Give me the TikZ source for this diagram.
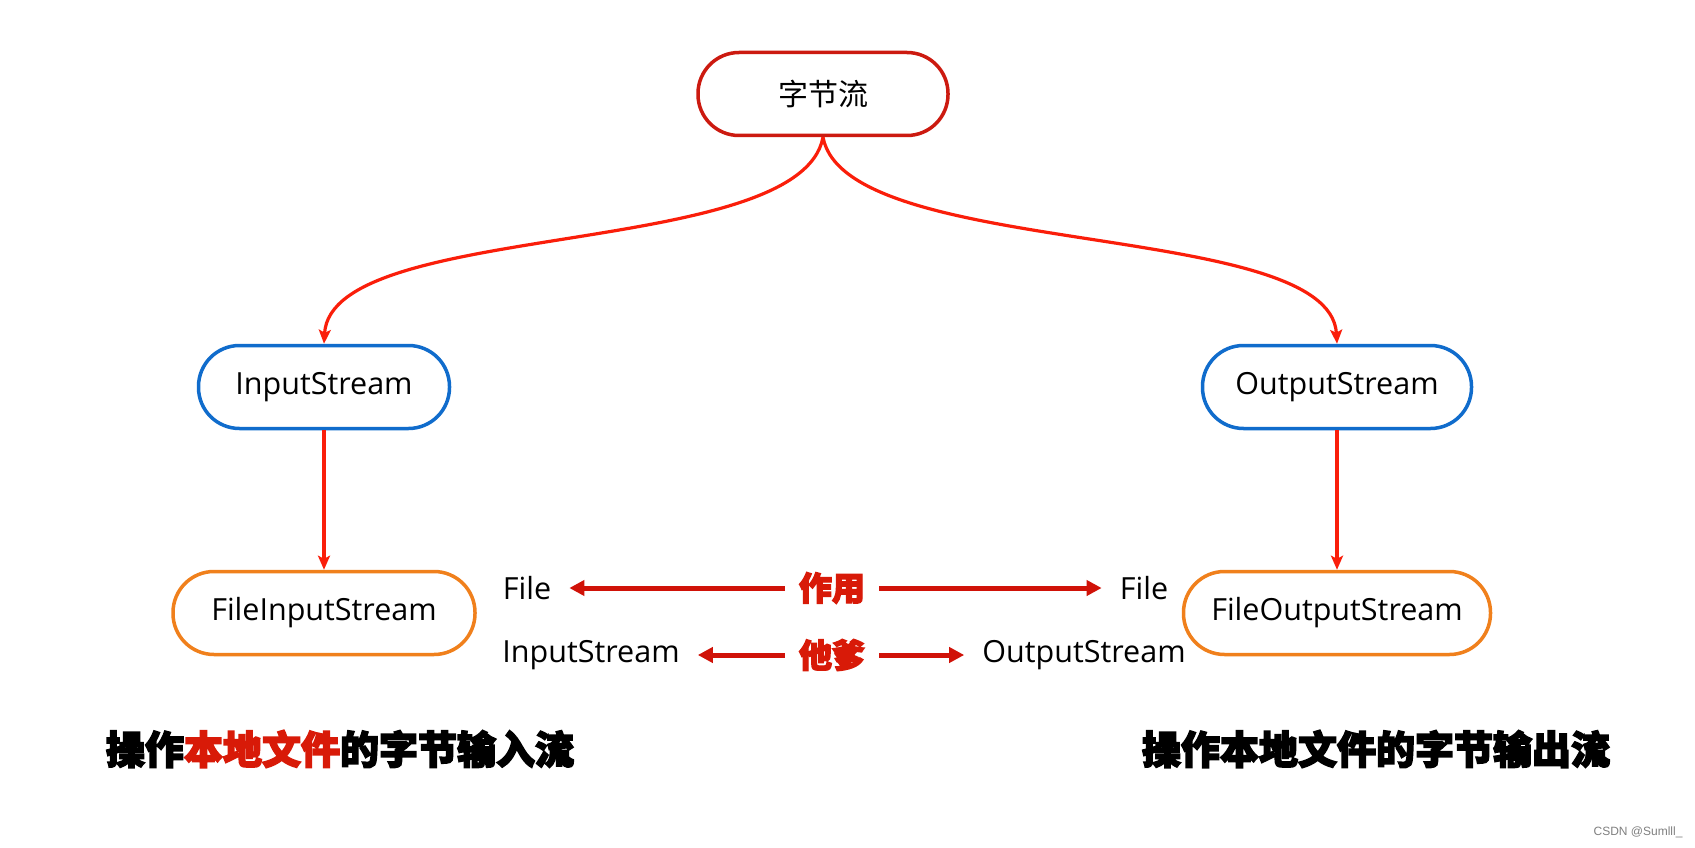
\documentclass[tikz,border=0pt]{standalone}
\usepackage{fontspec}
\setmainfont{Open Sans}
\newfontfamily\cjk{Noto Sans CJK SC}[BoldFeatures={FakeBold=4}]
\newfontfamily\wmfont{Liberation Sans}
\usetikzlibrary{arrows.meta}
\definecolor{topred}{RGB}{204,26,16}
\definecolor{nodeblue}{RGB}{16,108,204}
\definecolor{nodeorange}{RGB}{240,128,28}
\definecolor{linkred}{RGB}{250,30,10}
\definecolor{midred}{RGB}{208,18,8}
\definecolor{txtred}{RGB}{216,26,8}
\tikzset{
  pill/.style={draw, line width=3.5pt, rectangle, rounded corners=41pt, minimum height=83pt, fill=white, inner sep=0pt,
    font=\fontsize{30.5}{35}\selectfont},
  link/.style={draw=linkred, line width=3.2pt, -{Stealth[length=14pt,width=12pt,inset=3pt]}},
  midarrow/.style={draw=midred, line width=5pt, -{Triangle[length=15pt,width=15pt]}, shorten <=14pt, shorten >=18pt},
  lbl/.style={inner sep=0pt, font=\fontsize{30.5}{35}\selectfont},
  heavy/.style={inner sep=0pt, font=\cjk\bfseries\fontsize{33}{36}\selectfont, text=txtred},
  bigheavy/.style={inner sep=0pt, font=\cjk\bfseries\fontsize{39}{42}\selectfont}
}
\begin{document}
\begin{tikzpicture}[x=1pt,y=-1pt]
\fill[white] (0,0) rectangle (1695,848);
\useasboundingbox (0,0) rectangle (1695,848);

\node[pill, draw=topred, minimum width=250pt, font=\cjk\fontsize{30}{35}\selectfont] (top) at (823,94) {字节流};
\node[pill, draw=nodeblue, minimum width=251pt] (in) at (324,387) {InputStream};
\node[pill, draw=nodeblue, minimum width=269pt] (out) at (1337,387) {OutputStream};
\node[pill, draw=nodeorange, minimum width=302pt] (fin) at (324,613) {FileInputStream};
\node[pill, draw=nodeorange, minimum width=307pt] (fout) at (1337,613) {FileOutputStream};

\draw[link] (top.south) .. controls +(-23,123) and +(7,-125) .. (in.north);
\draw[link] (top.south) .. controls +(23,123) and +(-7,-125) .. (out.north);
\draw[link] (in.south) -- (fin.north);
\draw[link] (out.south) -- (fout.north);

\node[lbl] (f1) at (527,588) {File};
\node[lbl] (f2) at (1144,588) {File};
\node[lbl] (is) at (591,655) {InputStream};
\node[lbl] (os) at (1084,655) {OutputStream};
\node[heavy] (zy) at (832,588) {作用};
\node[heavy] (td) at (832,655) {他爹};

\draw[midarrow] (zy) -- (f1);
\draw[midarrow] (zy) -- (f2);
\draw[midarrow] (td) -- (is);
\draw[midarrow] (td) -- (os);

\node[bigheavy] (bl) at (340,749) {操作{\color{txtred}本地文件}的字节输入流};
\node[bigheavy] (br) at (1376,749) {操作本地文件的字节输出流};

\node[inner sep=0pt, text=gray, font=\wmfont\fontsize{12}{14}\selectfont] (wm) at (1638,832) {CSDN @Sumlll\_};
\end{tikzpicture}
\end{document}
